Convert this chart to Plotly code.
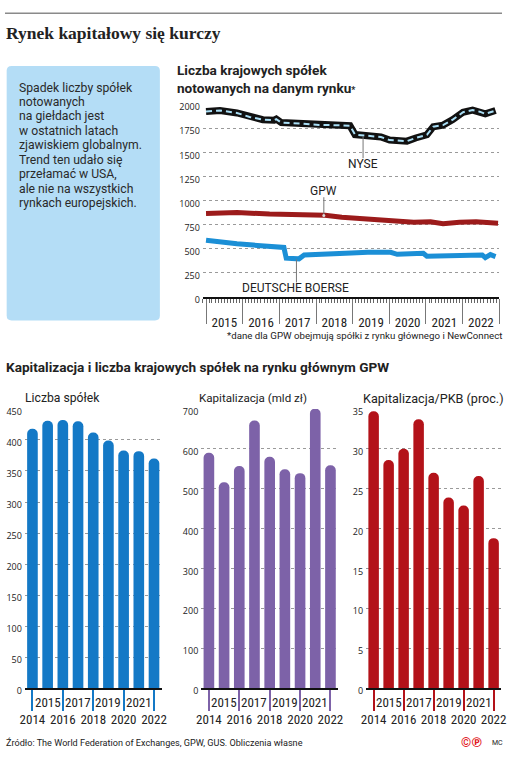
import plotly.graph_objects as go

W, H = 507, 760

# ---------------- data ----------------
years = [2014, 2015, 2016, 2017, 2018, 2019, 2020, 2021, 2022]
even_years = [2014, 2016, 2018, 2020, 2022]
odd_years = [2015, 2017, 2019, 2021]
liczba_spolek = [418, 431, 432, 430, 412, 399, 383, 382, 370]
kapitalizacja = [590, 516, 557, 671, 580, 549, 539, 701, 559]
kap_pkb = [34.7, 28.6, 30.0, 33.7, 27.0, 23.9, 22.9, 26.6, 18.8]

nyse_dates = ["2015-01-01", "2015-05-20", "2015-11-05", "2016-03-10", "2016-07-20",
              "2016-11-10", "2016-12-01", "2017-01-20", "2017-08-10", "2018-01-30",
              "2018-07-10", "2018-12-05", "2019-01-25", "2019-06-01", "2019-10-10",
              "2020-01-05", "2020-06-25", "2020-09-20", "2021-01-10", "2021-03-15",
              "2021-06-20", "2021-09-25", "2022-01-05", "2022-04-10", "2022-06-20",
              "2022-08-15", "2022-11-25"]
nyse_values = [1925, 1935, 1910, 1868, 1840, 1835, 1846, 1810, 1800, 1785,
               1783, 1777, 1685, 1673, 1660, 1628, 1617, 1650, 1683, 1767,
               1783, 1840, 1917, 1940, 1923, 1900, 1935]

gpw_dates = ["2015-01-01", "2015-11-05", "2016-09-25", "2017-08-10", "2018-04-01",
             "2018-09-15", "2019-03-25", "2019-10-10", "2020-02-15", "2020-09-01",
             "2021-02-15", "2021-06-20", "2021-12-01", "2022-05-15", "2022-12-20"]
gpw_values = [867, 877, 860, 853, 847, 827, 813, 803, 786, 776,
              779, 759, 776, 779, 765]

db_dates = ["2015-01-01", "2015-05-20", "2015-11-05", "2016-04-15", "2016-09-25",
            "2017-02-15", "2017-03-10", "2017-07-15", "2017-09-05", "2018-01-30",
            "2018-07-10", "2018-12-20", "2019-06-01", "2020-01-15", "2020-03-20",
            "2020-12-05", "2021-01-10", "2021-08-25", "2022-07-15", "2022-08-15",
            "2022-10-05", "2022-11-25"]
db_values = [589, 568, 551, 538, 524, 514, 402, 395, 436, 439,
             446, 456, 463, 463, 442, 453, 422, 429, 436, 408,
             439, 419]

line_yticks = [0, 250, 500, 750, 1000, 1250, 1500, 1750, 2000]
bar1_yticks = [0, 50, 100, 150, 200, 250, 300, 350, 400, 450]
bar2_yticks = [0, 100, 200, 300, 400, 500, 600, 700]
bar3_yticks = [0, 5, 10, 15, 20, 25, 30, 35]

info_lines = ["Spadek liczby spółek", "notowanych", "na giełdach jest",
              "w ostatnich latach", "zjawiskiem globalnym.", "Trend ten udało się",
              "przełamać w USA,", "ale nie na wszystkich", "rynkach europejskich."]

# ---------------- styling ----------------
BLUE_BAR = "#1479c6"
PURPLE = "#7d62a8"
RED_BAR = "#b31219"
GPW_RED = "#9c1b1b"
DB_BLUE = "#1b8fd6"
NYSE_DASH = "#a9def5"
TXT = "#222222"
GRID = "#9a9a9a"
FONT = "Roboto, Lato, sans-serif"
COND = "Liberation Sans Narrow, Roboto Condensed, DejaVu Sans Condensed, Roboto"
TICKF = dict(family="Open Sans, sans-serif", size=9, color=TXT)


def fx(p):
    return p / W


def fy(p):
    return 1 - p / H


fig = go.Figure()

# ---------------- line chart ----------------
fig.add_trace(go.Scatter(x=gpw_dates, y=gpw_values, mode="lines",
                         line=dict(color=GPW_RED, width=5), xaxis="x", yaxis="y",
                         hoverinfo="skip"))
fig.add_trace(go.Scatter(x=db_dates, y=db_values, mode="lines",
                         line=dict(color=DB_BLUE, width=5), xaxis="x", yaxis="y",
                         hoverinfo="skip"))
fig.add_trace(go.Scatter(x=nyse_dates, y=nyse_values, mode="lines",
                         line=dict(color="#111111", width=7), xaxis="x", yaxis="y",
                         hoverinfo="skip"))
fig.add_trace(go.Scatter(x=nyse_dates, y=nyse_values, mode="lines",
                         line=dict(color=NYSE_DASH, width=2, dash="6px,4px"),
                         xaxis="x", yaxis="y", hoverinfo="skip"))

# ---------------- bar charts ----------------
for vals, col, ax in [(liczba_spolek, BLUE_BAR, "2"), (kapitalizacja, PURPLE, "3"),
                      (kap_pkb, RED_BAR, "4")]:
    fig.add_trace(go.Bar(x=years, y=vals, marker=dict(color=col, cornerradius="48%",
                                                      line=dict(width=0)),
                         width=0.7, xaxis="x" + ax, yaxis="y" + ax, hoverinfo="skip"))

layout = dict(
    width=W, height=H, margin=dict(l=0, r=0, t=0, b=0),
    paper_bgcolor="white", plot_bgcolor="rgba(0,0,0,0)", showlegend=False,
    font=dict(family=FONT, color=TXT),
)

layout["xaxis"] = dict(
    type="date", domain=[fx(201.9), fx(504.2)], anchor="y",
    range=["2014-12-01", "2023-01-01"], showgrid=False, zeroline=False,
    showline=True, linecolor="#111", linewidth=2,
    ticks="outside", ticklen=25, tickwidth=1, tickcolor="#777",
    tick0="2015-01-01", dtick="M12", tickformat="%Y", ticklabelmode="period",
    ticklabelstandoff=-13, tickfont=dict(family=COND, size=13, color=TXT),
    minor=dict(dtick="M1", ticks="outside", ticklen=4, tickcolor="#666", tickwidth=1,
               showgrid=False),
    fixedrange=True,
)
layout["yaxis"] = dict(
    domain=[fy(298), fy(102)], anchor="x", range=[0, 2000],
    tickvals=line_yticks, showgrid=True, gridcolor=GRID, griddash="dot", gridwidth=1,
    zeroline=False, showline=False, ticks="", tickfont=TICKF, ticklabelshift=3,
    ticklabelstandoff=2, fixedrange=True,
)

bar_specs = [("2", [20.25, 159.75], [0, 450], bar1_yticks, BLUE_BAR),
             ("3", [200.25, 339.75], [0, 700], bar2_yticks, PURPLE),
             ("4", [368.4, 506.1], [0, 35], bar3_yticks, RED_BAR)]
for ax, dom, rng, tv, col in bar_specs:
    layout["xaxis" + ax] = dict(
        domain=[fx(dom[0]), fx(dom[1])], anchor="y" + ax, range=[2013.5, 2022.5],
        tickvals=even_years, ticktext=[str(y) for y in even_years],
        ticks="outside", ticklen=21, tickwidth=2, tickcolor=col,
        ticklabelstandoff=-3,
        showline=True, linecolor="#111", linewidth=2, showgrid=False, zeroline=False,
        tickfont=dict(family=COND, size=13, color=TXT), fixedrange=True,
    )
    layout["yaxis" + ax] = dict(
        domain=[fy(696), fy(412)], anchor="x" + ax, range=rng, tickvals=tv,
        showgrid=True, gridcolor=GRID, griddash="dot", gridwidth=1, zeroline=False,
        showline=False, ticks="", tickfont=TICKF, ticklabelshift=3,
        ticklabelstandoff=2, fixedrange=True,
    )

fig.update_layout(**layout)

ann = []
PAD = 3  # annotation inner padding compensation


def text(x, y, s, size, bold=False, color=TXT, xanchor="left", family=FONT):
    xx = x - PAD if xanchor == "left" else (x + PAD if xanchor == "right" else x)
    ann.append(dict(x=fx(xx), y=fy(y), xref="paper", yref="paper", text=s,
                    showarrow=False, xanchor=xanchor, yanchor="middle",
                    align=xanchor if xanchor != "center" else "center",
                    font=dict(family=family, size=size, color=color,
                              weight="bold" if bold else "normal")))


# titles
text(2, 29, "Rynek kapitałowy się kurczy", 17.5, bold=True,
     family="Liberation Serif, DejaVu Serif, serif")
text(176, 76, "Liczba krajowych spółek<br>notowanych na danym rynku"
     "<span style='font-size:9px'>*</span>", 13.6, bold=True)
text(506, 337, "*dane dla GPW obejmują spółki z rynku głównego i NewConnect", 9.7,
     xanchor="right")
text(2, 369, "Kapitalizacja i liczba krajowych spółek na rynku głównym GPW", 13.6,
     bold=True)
text(21, 401, "Liczba spółek", 12.2)
text(199, 401, "Kapitalizacja (mld zł)", 11.6)
text(366, 401, "Kapitalizacja/PKB (proc.)", 12.6)
text(2, 751, "Źródło: The World Federation of Exchanges, GPW, GUS. Obliczenia własne",
     9.1)
text(466, 751, "©℗", 13, bold=True, color="#e1141b")
text(498, 752, "MC", 7)

for i, s in enumerate(info_lines):
    text(15, 85 + i * 14.7, s, 12.2, color="#2a2a2a")

# series labels in line chart (data coordinates)
for x, y, s in [("2019-04-15", 1378, "NYSE"), ("2018-03-20", 1100, "GPW"),
                ("2017-06-10", 90, "DEUTSCHE BOERSE")]:
    ann.append(dict(x=x, y=y, xref="x", yref="y", text=s, showarrow=False,
                    xanchor="center", yanchor="middle",
                    font=dict(family=FONT, size=12, color=TXT)))

# odd-year labels for bar charts
for ax in ["2", "3", "4"]:
    for yr in odd_years:
        ann.append(dict(x=yr, y=fy(711), xref="x" + ax, yref="paper", text=str(yr),
                        showarrow=False, xanchor="center", yanchor="middle",
                        font=dict(family=COND, size=13, color=TXT)))

fig.update_layout(annotations=ann)

# ---------------- shapes ----------------
shapes = []
# top rule
shapes.append(dict(type="line", xref="paper", yref="paper", x0=0, x1=1,
                   y0=fy(9.5), y1=fy(9.5), line=dict(color="#8a8a8a", width=1.5)))


def rounded_rect(x0, y0, x1, y1, r):
    rx, ry = r / W, r / H
    X0, X1, Y0, Y1 = fx(x0), fx(x1), fy(y0), fy(y1)  # Y0 top, Y1 bottom
    return (f"M {X0+rx},{Y0} L {X1-rx},{Y0} Q {X1},{Y0} {X1},{Y0-ry} "
            f"L {X1},{Y1+ry} Q {X1},{Y1} {X1-rx},{Y1} L {X0+rx},{Y1} "
            f"Q {X0},{Y1} {X0},{Y1+ry} L {X0},{Y0-ry} Q {X0},{Y0} {X0+rx},{Y0} Z")


shapes.append(dict(type="path", xref="paper", yref="paper",
                   path=rounded_rect(1.7, 63, 158, 322, 5),
                   fillcolor="#b4ddf6", line=dict(width=0), layer="below"))

# pointer lines
for x, ya, yb in [("2019-04-15", 1665, 1440), ("2018-03-20", 1035, 840),
                  ("2017-06-20", 390, 150)]:
    shapes.append(dict(type="line", xref="x", yref="y", x0=x, x1=x, y0=ya, y1=yb,
                       line=dict(color="#777", width=1)))
shapes.append(dict(type="circle", xref="x", yref="y", xsizemode="pixel",
                   ysizemode="pixel", xanchor="2018-03-20", yanchor=845,
                   x0=-1.5, x1=1.5, y0=-1.5, y1=1.5, fillcolor="#ddd",
                   line=dict(width=0)))

fig.update_layout(shapes=shapes)

fig.write_html("out.html", config={"displayModeBar": False},
               post_script="document.body.style.margin='0';"
                           "document.body.style.overflow='hidden';")
